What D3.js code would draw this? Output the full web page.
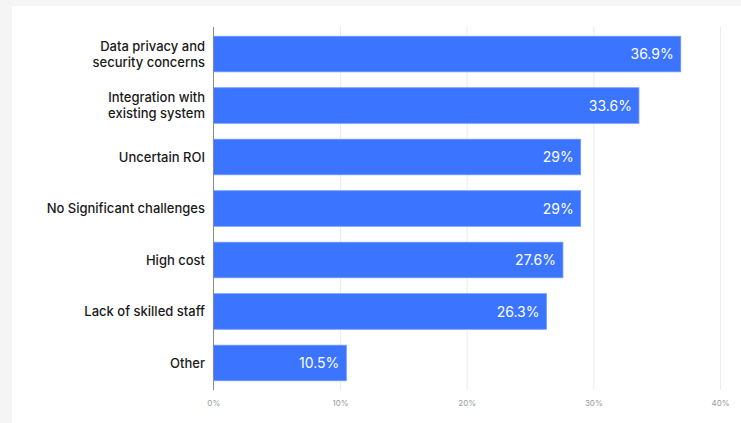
<!DOCTYPE html>
<html><head><meta charset="utf-8">
<script src="https://cdn.jsdelivr.net/npm/d3@7"></script>
<style>
html,body{margin:0;padding:0;background:#f5f5f5;}
svg{display:block;}
</style></head>
<body>
<svg id="chart" width="741" height="423"></svg>
<script>
const categories = [
  ["Data privacy and", "security concerns"],
  ["Integration with", "existing system"],
  ["Uncertain ROI"],
  ["No Significant challenges"],
  ["High cost"],
  ["Lack of skilled staff"],
  ["Other"]
];
const values = [36.9, 33.6, 29, 29, 27.6, 26.3, 10.5];
const valueLabels = ["36.9%", "33.6%", "29%", "29%", "27.6%", "26.3%", "10.5%"];
const tickValues = [0, 10, 20, 30, 40];
const tickLabels = ["0%", "10%", "20%", "30%", "40%"];

const svg = d3.select("#chart");
svg.append("rect").attr("x", 12).attr("y", 6).attr("width", 729).attr("height", 417).attr("fill", "#fff");

const x = d3.scaleLinear().domain([0, 40]).range([213.3, 720]);
const idx = d3.range(categories.length);
const y = d3.scaleBand().domain(idx).range([27, 390]).paddingInner(0.31).paddingOuter(0.18);

// gridlines
svg.append("g").selectAll("line").data(tickValues.slice(1)).join("line")
  .attr("x1", d => x(d) + 0.5).attr("x2", d => x(d) + 0.5)
  .attr("y1", 27).attr("y2", 390)
  .attr("stroke", "#ececec").attr("stroke-width", 1);

// tick labels via axis
const axis = d3.axisBottom(x).tickValues(tickValues).tickFormat((d, i) => tickLabels[i]).tickSize(0).tickPadding(0);
const ag = svg.append("g").attr("transform", "translate(0,400)").call(axis);
ag.select(".domain").remove();
ag.selectAll("text").attr("fill", "#9a9a9a").attr("font-size", "8px")
  .attr("font-family", "Inter, 'Noto Sans', sans-serif").attr("dy", "0.71em");

// bars
svg.append("g").selectAll("rect").data(idx).join("rect")
  .attr("x", x(0)).attr("y", i => y(i))
  .attr("width", i => x(values[i]) - x(0))
  .attr("height", y.bandwidth())
  .attr("fill", "#3a74ff").attr("stroke", "#6a96ff").attr("stroke-width", 0.8);

// axis line
svg.append("line").attr("x1", 213.5).attr("x2", 213.5).attr("y1", 27).attr("y2", 390)
  .attr("stroke", "#8a8a8a").attr("stroke-width", 1);

// value labels
svg.append("g").selectAll("text").data(idx).join("text")
  .attr("x", i => x(values[i]) - 7)
  .attr("y", i => y(i) + y.bandwidth() / 2)
  .attr("dy", "0.36em")
  .attr("text-anchor", "end")
  .attr("fill", "#fff")
  .attr("font-family", "Inter, 'Noto Sans', sans-serif")
  .attr("font-size", "14px").attr("font-weight", 400)
  .text(i => valueLabels[i]);

// category labels
const lg = svg.append("g").selectAll("text").data(idx).join("text")
  .attr("text-anchor", "end")
  .attr("fill", "#1a1a1a")
  .attr("font-family", "Inter, 'Noto Sans', sans-serif")
  .attr("font-size", "13px").attr("font-weight", 500);
lg.each(function(i) {
  const lines = categories[i];
  const cy = y(i) + y.bandwidth() / 2;
  const lh = 16;
  const t = d3.select(this);
  lines.forEach((ln, k) => {
    t.append("tspan").attr("x", 205)
      .attr("y", cy + (k - (lines.length - 1) / 2) * lh)
      .attr("dy", "0.36em").text(ln);
  });
});
</script>
</body></html>
